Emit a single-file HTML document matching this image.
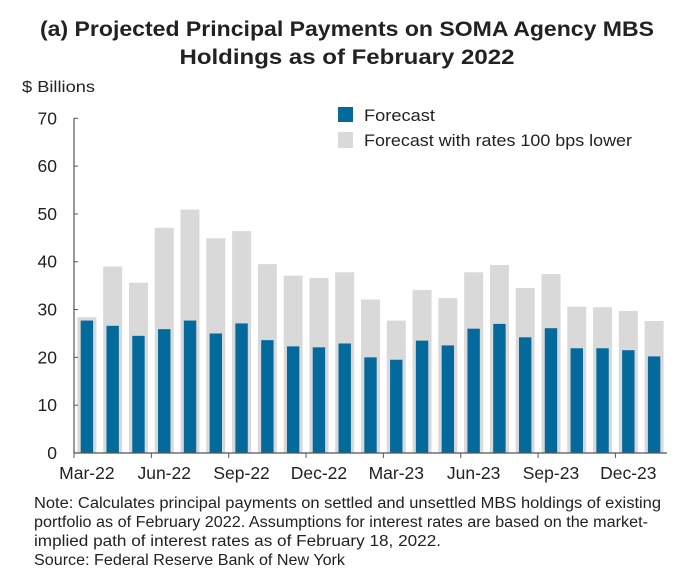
<!DOCTYPE html>
<html><head><meta charset="utf-8"><style>
html,body{margin:0;padding:0;background:#fff;}
svg{display:block;font-family:"Liberation Sans",Arial,sans-serif;}
</style></head><body>
<svg id="chart" width="696" height="588">
<text x="347" y="36" text-anchor="middle" font-size="21" font-weight="bold" fill="#222" textLength="614" lengthAdjust="spacingAndGlyphs">(a) Projected Principal Payments on SOMA Agency MBS</text>
<text x="347" y="64" text-anchor="middle" font-size="21" font-weight="bold" fill="#222" textLength="335" lengthAdjust="spacingAndGlyphs">Holdings as of February 2022</text>
<text x="22" y="92" font-size="16" fill="#222" textLength="73" lengthAdjust="spacingAndGlyphs">$ Billions</text>
<rect x="338" y="107" width="15" height="15" fill="#046a9c"/>
<text x="364" y="121" font-size="17" fill="#222" textLength="71" lengthAdjust="spacingAndGlyphs">Forecast</text>
<rect x="338" y="132" width="15" height="16" fill="#d9d9d9"/>
<text x="364" y="146" font-size="17" fill="#222" textLength="268" lengthAdjust="spacingAndGlyphs">Forecast with rates 100 bps lower</text>
<g id="plot"></g>
<text x="34" y="508" font-size="15.5" fill="#222" textLength="627" lengthAdjust="spacingAndGlyphs">Note: Calculates principal payments on settled and unsettled MBS holdings of existing</text>
<text x="34" y="527" font-size="15.5" fill="#222" textLength="614" lengthAdjust="spacingAndGlyphs">portfolio as of February 2022. Assumptions for interest rates are based on the market-</text>
<text x="34" y="546" font-size="15.5" fill="#222" textLength="407" lengthAdjust="spacingAndGlyphs">implied path of interest rates as of February 18, 2022.</text>
<text x="34" y="565" font-size="15.5" fill="#222" textLength="311" lengthAdjust="spacingAndGlyphs">Source: Federal Reserve Bank of New York</text>
</svg>
<script>
const categories = ["Mar-22","Apr-22","May-22","Jun-22","Jul-22","Aug-22","Sep-22","Oct-22","Nov-22","Dec-22","Jan-23","Feb-23","Mar-23","Apr-23","May-23","Jun-23","Jul-23","Aug-23","Sep-23","Oct-23","Nov-23","Dec-23","Jan-24"];
const lowerRates = [28.4,39.0,35.6,47.1,50.9,44.9,46.4,39.5,37.1,36.6,37.8,32.1,27.7,34.1,32.4,37.8,39.3,34.5,37.4,30.6,30.5,29.7,27.6];
const forecast = [27.7,26.6,24.5,25.9,27.7,25.0,27.1,23.6,22.3,22.1,22.9,20.0,19.5,23.5,22.5,26.0,27.0,24.2,26.1,21.9,21.9,21.5,20.2];
const yTicks = [0,10,20,30,40,50,60,70];
const xLabels = ["Mar-22","Jun-22","Sep-22","Dec-22","Mar-23","Jun-23","Sep-23","Dec-23"];

const NS="http://www.w3.org/2000/svg";
const g=document.getElementById('plot');
const X0=74, X1=667, Y0=453, YT=118.3, YMAX=70;
const slot=(X1-X0)/categories.length;
const y=v=>Y0-(v/YMAX)*(Y0-YT);
const xc=i=>X0+slot*(i+0.5);
function mk(tag,attrs){const e=document.createElementNS(NS,tag);for(const k in attrs)e.setAttribute(k,attrs[k]);g.appendChild(e);return e;}
categories.forEach((c,i)=>{
  const r=mk('rect',{x:xc(i)-9.5,y:y(lowerRates[i]),width:19,height:Y0-y(lowerRates[i]),fill:'#d9d9d9'});
  
  
});
categories.forEach((c,i)=>{
  const r=mk('rect',{x:xc(i)-6.2,y:y(forecast[i]),width:12.4,height:Y0-y(forecast[i]),fill:'#046a9c'});
  
  
});
const ya=mk('line',{x1:X0,y1:YT,x2:X0,y2:Y0,stroke:'#555','stroke-width':1.2});


yTicks.forEach(t=>{
  const l=mk('line',{x1:X0,y1:y(t),x2:X0+4,y2:y(t),stroke:'#555','stroke-width':1});
  
  
  const tx=mk('text',{x:57,y:y(t)+6,'text-anchor':'end','font-size':17.5,fill:'#222'});
  tx.textContent=t;
  
  
});
const xa=mk('line',{x1:X0,y1:Y0,x2:X1,y2:Y0,stroke:'#555','stroke-width':1.2});


xLabels.forEach(lab=>{
  const i=categories.indexOf(lab);
  const l=mk('line',{x1:X0+slot*i,y1:Y0,x2:X0+slot*i,y2:Y0+5,stroke:'#555','stroke-width':1});
  
  
  const tx=mk('text',{x:xc(i),y:479,'text-anchor':'middle','font-size':17.5,fill:'#222'});
  tx.textContent=lab;
  
  
});
</script>
</body></html>
